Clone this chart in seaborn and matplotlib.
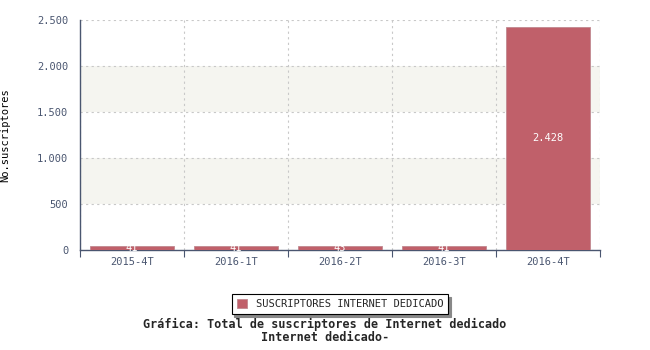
import matplotlib
matplotlib.use("Agg")
import matplotlib.pyplot as plt
import seaborn as sns
import pandas as pd
from matplotlib.ticker import FuncFormatter, MultipleLocator, FixedLocator

periodos = ["2015-4T", "2016-1T", "2016-2T", "2016-3T", "2016-4T"]
suscriptores = [41, 41, 43, 41, 2428]
serie = "SUSCRIPTORES INTERNET DEDICADO"
titulo = "Gráfica: Total de suscriptores de Internet dedicado\nInternet dedicado-"
ylabel = "No.suscriptores"

sns.set_style("white")
plt.rcParams["font.family"] = ["DejaVu Sans Mono"]

df = pd.DataFrame({"periodo": periodos, "valor": suscriptores, "serie": serie})

fig = plt.figure(figsize=(6.5, 3.5), dpi=100)
ax = fig.add_axes([80/650, 100/350, 520/650, 230/350])

axc = "#4a5670"
barc = "#c0606a"

for lo, hi in [(500, 1000), (1500, 2000)]:
    ax.axhspan(lo, hi, color="#f5f5f0", zorder=0, lw=0)

sns.barplot(data=df, x="periodo", y="valor", hue="serie", palette=[barc],
            saturation=1, width=0.8, ax=ax, edgecolor="#c08890", linewidth=0.6, zorder=3)

ax.set_ylim(0, 2500)
ax.set_xlim(-0.5, len(periodos) - 0.5)

def fmt(v, pos=None):
    return f"{int(round(v)):,}".replace(",", ".")

ax.yaxis.set_major_locator(MultipleLocator(500))
ax.yaxis.set_minor_locator(MultipleLocator(100))
ax.yaxis.set_major_formatter(FuncFormatter(fmt))
ax.tick_params(axis="y", which="major", length=5, color=axc, labelcolor=axc, labelsize=7.5, width=0.8)
ax.tick_params(axis="y", which="minor", length=3, color=axc, width=0.6)

ax.xaxis.set_minor_locator(FixedLocator([i - 0.5 for i in range(len(periodos) + 1)]))
ax.tick_params(axis="x", which="major", length=0, labelcolor=axc, labelsize=7.5, pad=5)
ax.tick_params(axis="x", which="minor", length=5, color=axc, width=0.8, bottom=True)

ax.grid(False)
ax.yaxis.grid(True, which="major", linestyle=(0, (2, 3)), color="#c8c8c8", lw=0.8, zorder=1)
ax.xaxis.grid(True, which="minor", linestyle=(0, (2, 3)), color="#c8c8c8", lw=0.8, zorder=1)
ax.set_axisbelow(True)

for s in ["top", "right"]:
    ax.spines[s].set_visible(False)
for s in ["left", "bottom"]:
    ax.spines[s].set_color(axc)
    ax.spines[s].set_linewidth(1.0)

ax.set_xlabel("")
ax.set_ylabel(ylabel, fontsize=7.5, color="black")
ax.yaxis.set_label_coords(-70/520, 0.5)

for i, v in enumerate(suscriptores):
    ax.text(i, v / 2, fmt(v), ha="center", va="center", color="white", fontsize=7.5, zorder=5)

leg = ax.legend(loc="center", bbox_to_anchor=(0.5, -0.235), frameon=True, fontsize=7.5,
                handlelength=1.0, handleheight=1.0, borderpad=0.5, fancybox=False,
                shadow={"color": "#888888", "alpha": 1, "ox": 2, "oy": -2}, edgecolor="black")
leg.get_frame().set_linewidth(0.8)

fig.text(0.5, 1 - 331/350, titulo, ha="center", va="center",
         fontsize=8.5, fontweight="bold", linespacing=1.0)

fig.savefig("out.png", dpi=100)
